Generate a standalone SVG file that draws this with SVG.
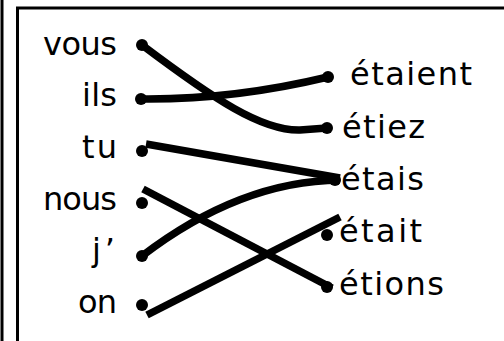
<svg xmlns="http://www.w3.org/2000/svg" width="504" height="341" viewBox="0 0 504 341">
<style>
.lbl{font-family:"DejaVu Sans","Liberation Sans",sans-serif;font-size:32px;fill:#000}
.l{text-anchor:end}
.c{fill:none;stroke:#000;stroke-width:7.5}
.d{fill:#000}
.f{fill:none;stroke:#000;stroke-width:3}
</style>
<rect width="504" height="341" fill="#fff"/>
<g id="frame">
<line class="f" x1="2" y1="0" x2="2" y2="341"/>
<path class="f" d="M17.5,341 V8 H504"/>
</g>
<g id="connectors">
<path class="c" d="M142,45 C215,100 262,131 300,130 L327,128"/>
<path class="c" d="M141,99 Q232,100 328,77"/>
<path class="c" d="M146,144 L340,178"/>
<path class="c" d="M142,256 Q240,181 340,180"/>
<path class="c" d="M143,189 L332,288"/>
<path class="c" d="M147,315 L340,217"/>
</g>
<g id="n-vous"><circle class="d" cx="142" cy="45" r="6"/><text class="lbl l" x="117" y="55" textLength="74">vous</text></g>
<g id="n-ils"><circle class="d" cx="141" cy="99" r="6"/><text class="lbl l" x="117" y="106" textLength="35">ils</text></g>
<g id="n-tu"><circle class="d" cx="142" cy="151" r="6"/><text class="lbl l" x="117" y="158" textLength="35">tu</text></g>
<g id="n-nous"><circle class="d" cx="142" cy="203" r="6"/><text class="lbl l" x="117" y="210" textLength="74">nous</text></g>
<g id="n-j"><circle class="d" cx="142" cy="256" r="6"/><text class="lbl l" x="115" y="261" textLength="23">j’</text></g>
<g id="n-on"><circle class="d" cx="142" cy="305" r="6"/><text class="lbl l" x="117" y="313" textLength="39">on</text></g>
<g id="n-etaient"><circle class="d" cx="328" cy="77" r="6"/><text class="lbl" x="350" y="85" textLength="122">étaient</text></g>
<g id="n-etiez"><circle class="d" cx="327" cy="128" r="6"/><text class="lbl" x="342" y="138" textLength="83">étiez</text></g>
<g id="n-etais"><circle class="d" cx="335" cy="180" r="6"/><text class="lbl" x="341" y="190" textLength="83">étais</text></g>
<g id="n-etait"><circle class="d" cx="327" cy="235" r="6"/><text class="lbl" x="339" y="242" textLength="83">était</text></g>
<g id="n-etions"><circle class="d" cx="327" cy="287" r="6"/><text class="lbl" x="339" y="295" textLength="105">étions</text></g>
</svg>
